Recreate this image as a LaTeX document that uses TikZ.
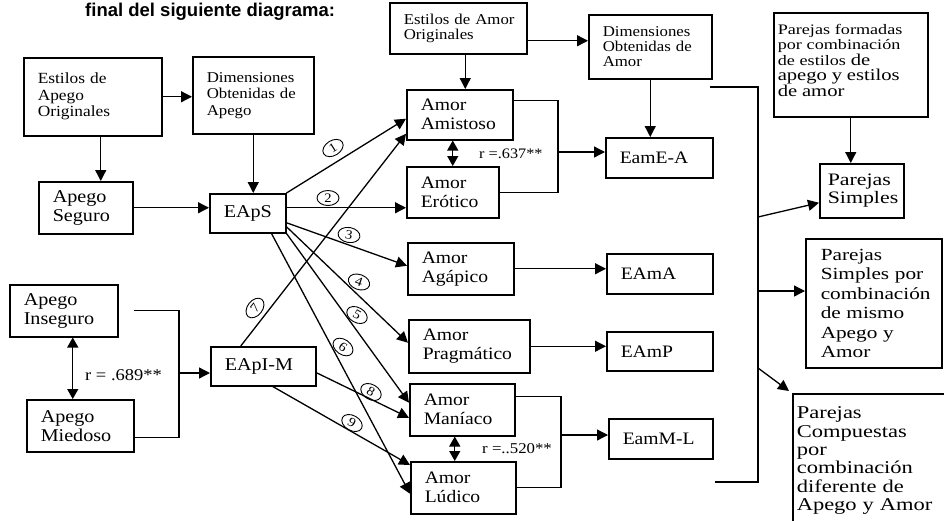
\documentclass[tikz,border=0pt]{standalone}
\usepackage{fontspec}
\setmainfont{Liberation Serif}[FakeStretch=1.12]
\setsansfont{Liberation Sans}
\newfontfamily\widefont{Liberation Serif}[FakeStretch=1.25]
\usepackage{tikz}
\usetikzlibrary{calc,arrows.meta,positioning,shapes.geometric}

\begin{document}
\begin{tikzpicture}[x=1pt,y=-1pt,
  box/.style={draw,line width=1.5pt,anchor=north west,align=left,
    inner xsep=14pt,inner ysep=0pt},
  arr/.style={line width=1.3pt,-{Triangle[length=11pt,width=11pt]}},
  arrs/.style={line width=1.3pt,{Triangle[length=10pt,width=11pt]}-{Triangle[length=10pt,width=11pt]}},
  lin/.style={line width=1.3pt},
  num/.style={draw,ellipse,line width=0.9pt,inner sep=0pt,minimum width=22pt,
    minimum height=15pt,font=\fontsize{13}{13}\selectfont},
  rlab/.style={anchor=base west,inner sep=0pt}]
	  \path[use as bounding box,fill=white] (0,0) rectangle (944,520);
	  \clip (0,0) rectangle (944,520);
	  \node[anchor=base west,inner sep=0pt,font=\sffamily\bfseries\fontsize{18.5}{18.5}\selectfont]
	    (tit) at (85,16) {final del siguiente diagrama:};
	  % apego
	  \node[box,text width=110pt,minimum height=78pt,font=\fontsize{15.5}{16.5}\selectfont]
	    (eao) at (23,57) {Estilos~de\\Apego\\Originales};
	  \node[box,text width=93pt,minimum height=77pt,font=\fontsize{15}{16.5}\selectfont]
	    (doa) at (192,56) {Dimensiones\\Obtenidas~de\\Apego};
	  \node[box,text width=66pt,minimum height=52pt,font=\fontsize{18}{19}\selectfont]
	    (seg) at (38,181) {Apego\\Seguro};
	  \node[box,text width=48pt,minimum height=39pt,font=\fontsize{18}{19}\selectfont]
	    (eaps) at (209,193) {EApS};
	  \node[box,text width=80pt,minimum height=52pt,font=\fontsize{18}{19}\selectfont]
	    (ins) at (9,284) {Apego\\Inseguro};
	  \node[box,text width=79pt,minimum height=52pt,font=\fontsize{18}{19}\selectfont]
	    (mie) at (26,399) {Apego\\Miedoso};
	  \node[box,text width=77pt,minimum height=39pt,font=\fontsize{18}{19}\selectfont]
	    (eapim) at (210,346) {EApI-M};
	  % amor
	  \node[box,text width=109pt,minimum height=51pt,font=\fontsize{15}{15.5}\selectfont]
	    (eamo) at (389,2) {Estilos~de~Amor\\Originales};
	  \node[box,text width=95pt,minimum height=64pt,font=\fontsize{15}{15}\selectfont]
	    (dam) at (588,14) {Dimensiones\\Obtenidas~de\\Amor};
	  \node[box,text width=78pt,minimum height=50pt,font=\fontsize{17.5}{19}\selectfont]
	    (ami) at (406,89) {Amor\\Amistoso};
	  \node[box,text width=64pt,minimum height=51pt,font=\fontsize{17.5}{19}\selectfont]
	    (ero) at (406,166) {Amor\\Erótico};
	  \node[box,text width=78pt,minimum height=52pt,font=\fontsize{17.5}{19}\selectfont]
	    (aga) at (407,242) {Amor\\Agápico};
	  \node[box,text width=93pt,minimum height=53pt,font=\fontsize{17.5}{19}\selectfont]
	    (pra) at (408,319) {Amor\\Pragmático};
	  \node[box,text width=77pt,minimum height=52pt,font=\fontsize{17.5}{19}\selectfont]
	    (man) at (409,383) {Amor\\Maníaco};
	  \node[box,text width=77pt,minimum height=52pt,font=\fontsize{17.5}{19}\selectfont]
	    (lud) at (410,461) {Amor\\Lúdico};
	  \node[box,text width=79pt,minimum height=40pt,font=\fontsize{17.5}{19}\selectfont]
	    (eamea) at (605,137) {EamE-A};
	  \node[box,text width=78pt,minimum height=40pt,font=\fontsize{17.5}{19}\selectfont]
	    (eama) at (606,253) {EAmA};
	  \node[box,text width=78pt,minimum height=39pt,font=\fontsize{17.5}{19}\selectfont]
	    (eamp) at (606,331) {EAmP};
	  \node[box,text width=76pt,minimum height=40pt,font=\fontsize{17.5}{19}\selectfont]
	    (eamml) at (608,418) {EamM-L};
	  % parejas
	  \node[box,inner xsep=4pt,text width=146pt,minimum height=104pt,
	    font=\widefont\fontsize{14.5}{15.5}\selectfont] (pfor) at (773,12)
	    {Parejas~formadas\\por~combinación\\de~estilos~{\fontsize{16.5}{15.5}\selectfont de}\\
	     {\fontsize{16.5}{15.5}\selectfont apego~y~estilos\\de~amor}\\[-6pt]\mbox{}};
	  \node[box,inner xsep=8pt,text width=68pt,minimum height=54pt,
	    font=\widefont\fontsize{17.5}{18}\selectfont] (psim) at (819,163) {Parejas\\Simples};
	  \node[box,inner xsep=15pt,text width=106pt,minimum height=129pt,
	    font=\widefont\fontsize{17}{19.5}\selectfont] (pspc) at (805,238)
	    {Parejas\\Simples~por\\combinación\\de~mismo\\Apego~y\\Amor};
	  \node[box,inner xsep=4pt,inner ysep=13pt,text width=162pt,
	    font=\widefont\fontsize{18}{18.4}\selectfont] (pcom) at (792,393)
	    {Parejas\\Compuestas\\por\\combinación\\diferente~de\\Apego~y~Amor\\[30pt]\mbox{}};
	  % conectores
	  \draw[arr] (eao.east) -- (eao.east -| doa.west);
	  \draw[arr] ([xshift=8pt]eao.south) -- ([xshift=8pt]eao.south |- seg.north);
	  \draw[arr] (doa.south) -- (doa.south |- eaps.north);
	  \draw[arr] (seg.east) -- (seg.east -| eaps.west);
	  \draw[arrs] ([xshift=9pt]ins.south) -- ([xshift=9pt]ins.south |- mie.north);
	  \coordinate (jim) at (179,373);
	  \draw[lin] ([xshift=15pt]ins.east) -| (jim) |- ([yshift=-12pt]mie.east);
	  \draw[arr] (jim) -- (jim -| eapim.west);
	  \draw[arr] ([yshift=-12.5pt]eamo.east) -- ([yshift=-12.5pt]eamo.east -| dam.west);
	  \draw[arr] ([xshift=7pt]eamo.south) -- ([xshift=7pt]eamo.south |- ami.north);
	  \draw[arr] (dam.south) -- (dam.south |- eamea.north);
	  \draw[arrs] (ero.north) -- (ero.north |- ami.south);
	  \coordinate (jae) at (558,152);
	  \draw[lin] ([yshift=14pt]ami.east) -| (jae) |- (ero.east);
	  \draw[arr] (jae) -- (jae -| eamea.west);
	  \draw[arr] (aga.east) -- (aga.east -| eama.west);
	  \draw[arr] (pra.east) -- (pra.east -| eamp.west);
	  \draw[arrs] ([xshift=-7.5pt]man.south) -- ([xshift=-7.5pt]man.south |- lud.north);
	  \coordinate (jml) at (561,435);
	  \draw[lin] ([yshift=13pt]man.east) -| (jml) |- (lud.east);
	  \draw[arr] (jml) -- (jml -| eamml.west);
	  \coordinate (gt) at (710,87);
	  \coordinate (gb) at (715,482);
	  \coordinate (g1) at (758,217);
	  \coordinate (g2) at (758,291);
	  \coordinate (g3) at (758,368);
	  \draw[lin] (gt) -| (g1) |- (gb);
	  \draw[arr] (g1) -- ([yshift=-12pt]psim.west);
	  \draw[arr] (g2) -- (g2 -| pspc.west);
	  \draw[arr] (g3) -- ([xshift=-3pt,yshift=2pt]pcom.north west);
	  \draw[arr] (pfor.south) -- (pfor.south |- psim.north);
	  % rutas numeradas
	  \draw[arr] (eaps.north east) -- ([yshift=-4pt]ami.west);
	  \draw[arr] ([yshift=5.5pt]eaps.east) -- ([yshift=-15.5pt]ero.west);
	  \draw[arr] ([yshift=-9.5pt]eaps.east) -- ([yshift=3pt]aga.west);
	  \draw[arr] ([yshift=-13.5pt]eaps.east) -- ([yshift=3.5pt]pra.west);
	  \draw[arr] (eaps.south east) -- ([yshift=7pt]man.west);
	  \draw[arr] ([xshift=-15pt]eaps.south east) -- ([yshift=-6pt]lud.west);
	  \draw[arr] ([xshift=-22.5pt]eapim.north) -- ([yshift=-19pt]ami.west);
	  \draw[arr] ([yshift=-6.5pt]eapim.east) -- ([yshift=-8pt]man.west);
	  \draw[arr] ([xshift=9.5pt]eapim.south) -- ([yshift=-4pt]lud.north west);
	  \node[num,rotate=32] (n1) at (333,148) {1};
	  \node[num] (n2) at (328,198) {2};
	  \node[num,rotate=-10] (n3) at (349,235) {3};
	  \node[num,rotate=-20] (n4) at (359,282) {4};
	  \node[num,rotate=-30] (n5) at (357,315) {5};
	  \node[num,rotate=-35] (n6) at (343,347) {6};
	  \node[num,rotate=52] (n7) at (255,308) {7};
	  \node[num,rotate=-30] (n8) at (371,392) {8};
	  \node[num,rotate=-30] (n9) at (352,423) {9};
	  \node[rlab,font=\fontsize{16.5}{16.5}\selectfont] (r1) at (85,380) {r = .689**};
	  \node[rlab,font=\fontsize{14.5}{14.5}\selectfont] (r2) at (479,158) {r =.637**};
	  \node[rlab,font=\fontsize{15}{15}\selectfont] (r3) at (482,453) {r =..520**};
\end{tikzpicture}
\end{document}
